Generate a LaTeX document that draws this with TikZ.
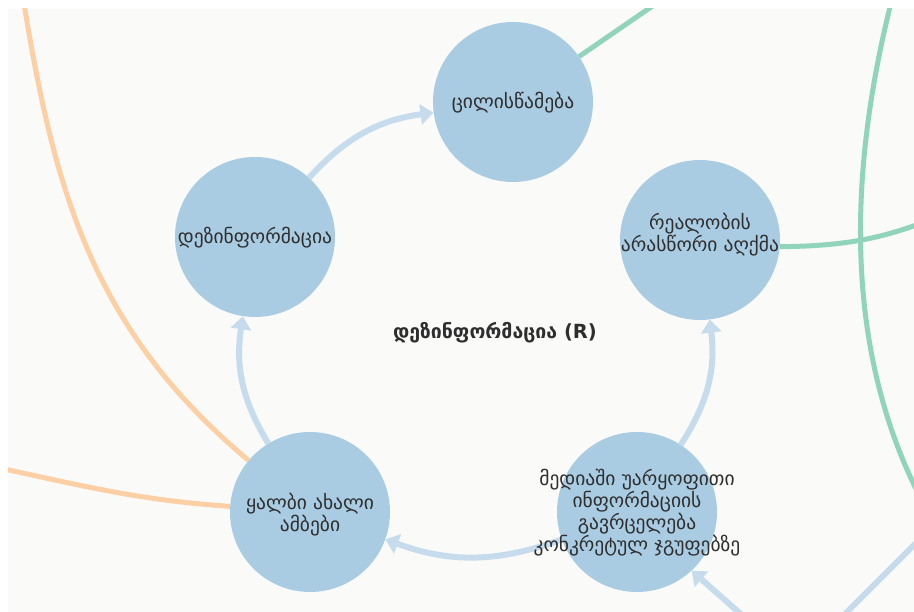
\documentclass[tikz,border=0pt]{standalone}
\usepackage{fontspec}
\setmainfont{DejaVu Sans}
\usetikzlibrary{arrows.meta}
\definecolor{blobfill}{HTML}{A9CCE3}
\definecolor{flowblue}{HTML}{C6DCEC}
\definecolor{tieorange}{HTML}{FCD0A4}
\definecolor{tiegreen}{HTML}{8FD4BB}
\definecolor{panel}{HTML}{FAFAF8}
\definecolor{ink}{HTML}{2E2E2E}
\tikzstyle{blob}=[circle,fill=blobfill,minimum size=160pt,inner sep=0pt]
\tikzstyle{txt}=[align=center,text=ink,font=\fontsize{19.5}{19.5}\selectfont]
\tikzstyle{flow}=[draw=flowblue,line width=6pt,-{Triangle[width=20pt,length=13pt]}]
\tikzstyle{tie}=[line width=5pt]

\begin{document}
\begin{tikzpicture}[x=1pt,y=1pt]
  \useasboundingbox[fill=white] (0,0) rectangle (914,612);
  \fill[panel] (8,0) rectangle (914,603);

  % Draw the circles
  \foreach \pos/\name in {{(513,510)/cil}, {(255,375)/dez}, {(700,372)/real},
                          {(310,100)/yal}, {(637,100)/med}}
  \node[blob] (\name) at \pos {};

  % Cycle arrows
  \path[flow] (yal) to[bend left=20] (dez);
  \path[flow] (dez) to[bend left=20] (cil);
  \path[flow] (med) to[bend right=20] (real);
  \path[flow] (med) to[bend left=20] (yal);

  % Links leaving the picture
  \begin{scope}
    \clip (8,0) rectangle (914,603);
    \coordinate (otop) at (22,621);
    \coordinate (oleft) at (-10,146);
    \coordinate (gtop) at (670,618);
    \coordinate (gright) at (960,405);
    \coordinate (garc1) at (893,617);
    \coordinate (garc2) at (928,100);
    \coordinate (bsrc) at (752,-12);
    \coordinate (bout1) at (830,-17);
    \coordinate (bout2) at (935,88);
    \draw[tie,tieorange] (yal) to[out=140,in=-81] (otop);
    \draw[tie,tieorange] (yal) to[out=176,in=-12] (oleft);
    \draw[tie,tiegreen] (cil) -- (gtop);
    \draw[tie,tiegreen] (real) to[bend right=12] (gright);
    \draw[tie,tiegreen] (garc1) .. controls (845,430) and (845,250) .. (garc2);
    \path[flow] (bsrc) -- (med.-47);
    \draw[tie,flowblue,line width=6pt] (bout1) -- (bout2);
  \end{scope}

  % Texts on top
  \foreach \pos/\name/\words in {{(513,509)/cil/ცილისწამება}, {(255,374)/dez/დეზინფორმაცია},
                                 {(700,377)/real/{რეალობის\\არასწორი აღქმა}},
                                 {(310,97)/yal/{ყალბი ახალი\\ამბები}},
                                 {(637,99)/med/{მედიაში უარყოფითი\\ინფორმაციის\\გავრცელება\\კონკრეტულ ჯგუფებზე}}}
  \node[txt] (\name txt) at \pos {\words};

  \node[txt,font=\bfseries\fontsize{19.5}{19.5}\selectfont] (title) at (495,279) {დეზინფორმაცია (R)};
\end{tikzpicture}
\end{document}
